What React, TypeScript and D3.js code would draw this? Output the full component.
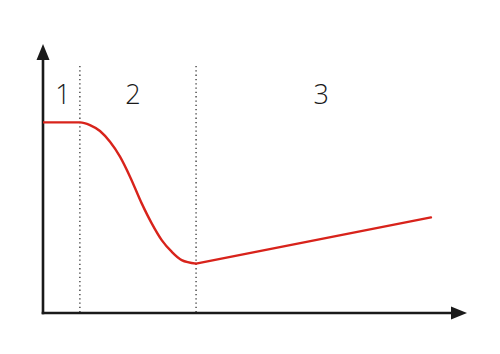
import React from "react";
import * as d3 from "d3";

const descentX = [0, 0.873, 1.108, 1.344, 1.58, 1.816, 2.052, 2.328, 2.564, 2.8, 3.035, 3.271, 3.61];
const descentY = [7.06, 7.06, 6.96, 6.74, 6.34, 5.79, 5.05, 4.06, 3.32, 2.7, 2.27, 1.96, 1.83];
const recoveryX = [3.61, 9.15];
const recoveryY = [1.83, 3.54];
const dividers = [0.87, 3.61];
const phaseLabels = ["1", "2", "3"];
const phaseX = [0.47, 2.12, 6.56];
const phaseY = 7.75;

const W = 500;
const H = 354;

export default function App() {
  const x = d3.scaleLinear().domain([0, 10]).range([43, 467]);
  const y = d3.scaleLinear().domain([0, 10]).range([313, 43]);

  const line = (curve: any) =>
    d3
      .line<[number, number]>()
      .x((d) => x(d[0]))
      .y((d) => y(d[1]))
      .curve(curve);

  const descent = descentX.map((v, i) => [v, descentY[i]] as [number, number]);
  const recovery = recoveryX.map((v, i) => [v, recoveryY[i]] as [number, number]);

  const x0 = x(0);
  const y0 = y(0);
  const xEnd = x(10);
  const yTop = y(10) + 1;

  return (
    <svg
      width={W}
      height={H}
      style={{ position: "absolute", left: 0, top: 0 }}
      viewBox={`0 0 ${W} ${H}`}
    >
      <rect width={W} height={H} fill="#fff" />
      {dividers.map((d, i) => (
        <line
          key={i}
          x1={x(d)}
          x2={x(d)}
          y1={66}
          y2={y0}
          stroke="#333"
          strokeWidth={1.3}
          strokeDasharray="1.3,3"
        />
      ))}
      <line x1={x0} x2={x0} y1={y0 + 1.2} y2={yTop + 14} stroke="#1a1a1a" strokeWidth={2.6} />
      <path
        d={`M${x0},${yTop} L${x0 - 6.5},${yTop + 16} L${x0 + 6.5},${yTop + 16} Z`}
        fill="#1a1a1a"
      />
      <line x1={x0 - 1.3} x2={xEnd - 14} y1={y0} y2={y0} stroke="#1a1a1a" strokeWidth={2.6} />
      <path
        d={`M${xEnd},${y0} L${xEnd - 16},${y0 - 6.5} L${xEnd - 16},${y0 + 6.5} Z`}
        fill="#1a1a1a"
      />
      <path
        d={line(d3.curveMonotoneX)(descent) || ""}
        fill="none"
        stroke="#d8231b"
        strokeWidth={2.4}
        strokeLinejoin="round"
      />
      <path
        d={line(d3.curveLinear)(recovery) || ""}
        fill="none"
        stroke="#d8231b"
        strokeWidth={2.4}
        strokeLinecap="round"
      />
      {phaseLabels.map((t, i) => (
        <text
          key={t}
          x={x(phaseX[i])}
          y={y(phaseY)}
          textAnchor="middle"
          fontFamily="'Open Sans', sans-serif"
          fontWeight={300}
          fontSize={27}
          fill="#1a1a1a"
        >
          {t}
        </text>
      ))}
    </svg>
  );
}
